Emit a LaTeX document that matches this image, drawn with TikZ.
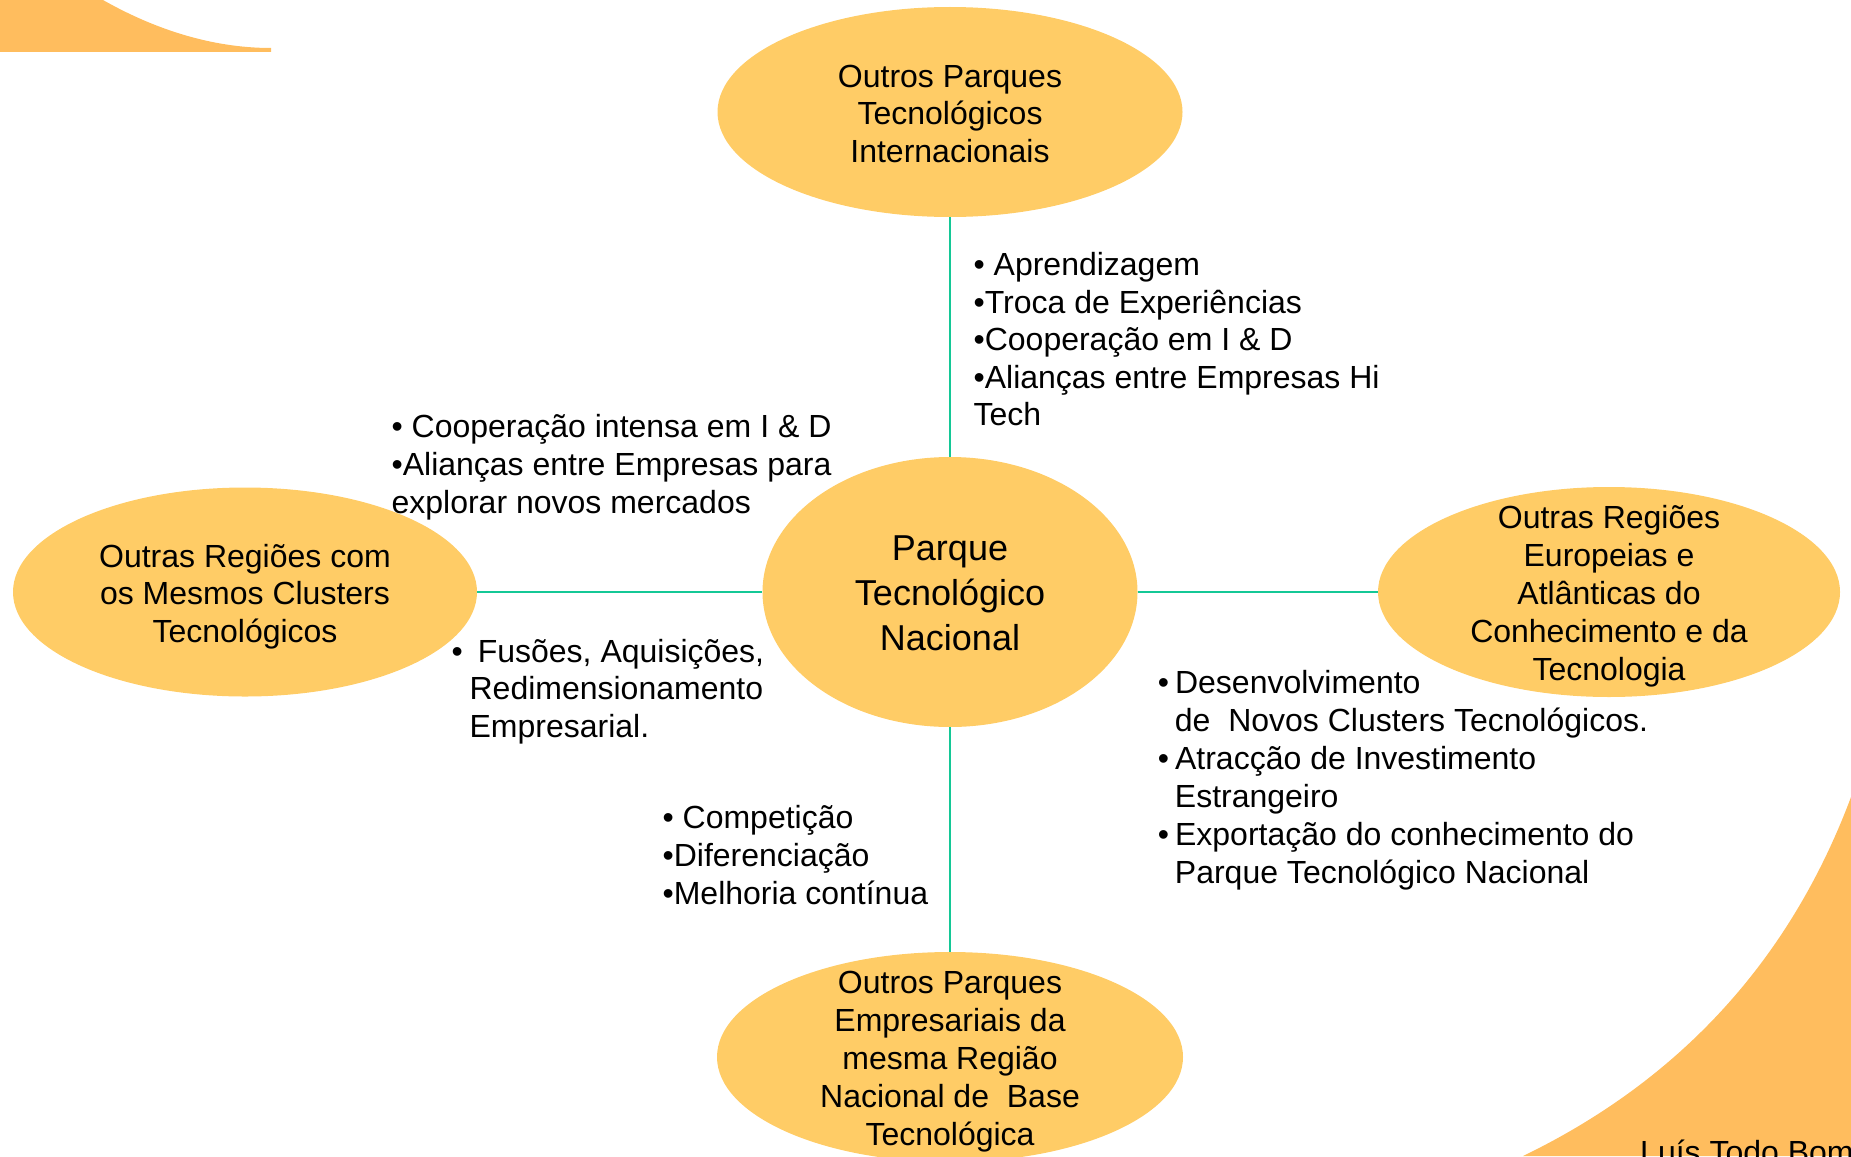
\documentclass[tikz,border=0pt]{standalone}
\usepackage{fontspec}
\setmainfont{Liberation Sans}
\usetikzlibrary{shapes.geometric}
\definecolor{blobfill}{RGB}{255,204,102}
\definecolor{cornerfill}{RGB}{255,189,94}
\definecolor{linkcol}{RGB}{20,200,150}

\begin{document}
\begin{tikzpicture}[x=1pt,y=-1pt,
  bubble/.style={ellipse, fill=blobfill, draw=none, inner sep=0pt},
  link/.style={draw=linkcol, line width=2.5pt},
  txt/.style={font=\fontsize{32}{37.5}\selectfont, inner sep=0pt, text=black},
  midtxt/.style={font=\fontsize{32}{38}\selectfont, inner sep=0pt, text=black},
  bigtxt/.style={font=\fontsize{36}{45}\selectfont, inner sep=0pt, text=black}]

\useasboundingbox (0,0) rectangle (1851,1156);
\clip (0,0) rectangle (1851,1156);

% decorative corner pieces
\fill[cornerfill] (0,0) -- (103,0) .. controls (163,34) and (220,48) .. (271,48)
  -- (271,52) -- (0,52) -- cycle;
\fill[cornerfill] (1851,797) .. controls (1790,960) and (1680,1080) .. (1523,1156)
  -- (1851,1156) -- cycle;

% the five partner bubbles
\node[bubble, minimum width=465pt, minimum height=210pt] (intl)  at (950,112)  {};
\node[bubble, minimum width=375pt, minimum height=270pt] (natl)  at (950,592)  {};
\node[bubble, minimum width=464pt, minimum height=209pt] (same)  at (245,592)  {};
\node[bubble, minimum width=462pt, minimum height=210pt] (euro)  at (1609,592) {};
\node[bubble, minimum width=466pt, minimum height=210pt] (local) at (950,1057) {};

% connectors from the national park
\draw[link] (intl) -- (natl);
\draw[link] (same) -- (natl);
\draw[link] (natl) -- (euro);
\draw[link] (natl) -- (local);

% bubble captions
\node[txt, anchor=north, align=center] (intlT) at (950,60.75)
  {\strut Outros Parques\\Tecnológicos\\Internacionais};
\node[bigtxt, anchor=north, align=center] (natlT) at (950,528.5)
  {\strut Parque\\Tecnológico\\Nacional};
\node[txt, anchor=north, align=center] (sameT) at (245,540.75)
  {\strut Outras Regiões com\\os Mesmos Clusters\\Tecnológicos};
\node[midtxt, anchor=north, align=center] (euroT) at (1609,501.4)
  {\strut Outras Regiões\\Europeias e\\Atlânticas do\\Conhecimento e da\\Tecnologia};
\node[midtxt, anchor=north, align=center] (localT) at (950,966.4)
  {\strut Outros Parques\\Empresariais da\\mesma Região\\Nacional de\ \ Base\\Tecnológica};

% relation notes
\node[txt, anchor=north west, align=left] (intlN) at (973.4,249.1)
  {\strut• Aprendizagem\\•Troca de Experiências\\•Cooperação em I \& D\\•Alianças entre Empresas Hi\\Tech};
\node[midtxt, anchor=north west, align=left] (sameN) at (391.4,410.4)
  {\strut• Cooperação intensa em I \& D\\•Alianças entre Empresas para\\explorar novos mercados};
\node[txt, anchor=north west, align=left] (mergeN) at (451.4,635.75)
  {\strut•\hspace*{15pt}Fusões, Aquisições,\\\hspace*{18pt}Redimensionamento\\\hspace*{18pt}Empresarial.};
\node[midtxt, anchor=north west, align=left] (localN) at (662.4,801.4)
  {\strut• Competição\\•Diferenciação\\•Melhoria contínua};
\node[midtxt, anchor=north west, align=left] (euroN) at (1157.7,666.4)
  {\strut•\hspace*{6pt}Desenvolvimento\\\hspace*{17pt}de\ \ Novos Clusters Tecnológicos.\\•\hspace*{6pt}Atracção de Investimento\\\hspace*{17pt}Estrangeiro\\•\hspace*{6pt}Exportação do conhecimento do\\\hspace*{17pt}Parque Tecnológico Nacional};

% author credit
\node[txt, anchor=base west] (author) at (1640,1163) {Luís Todo Bom};
\end{tikzpicture}
\end{document}
